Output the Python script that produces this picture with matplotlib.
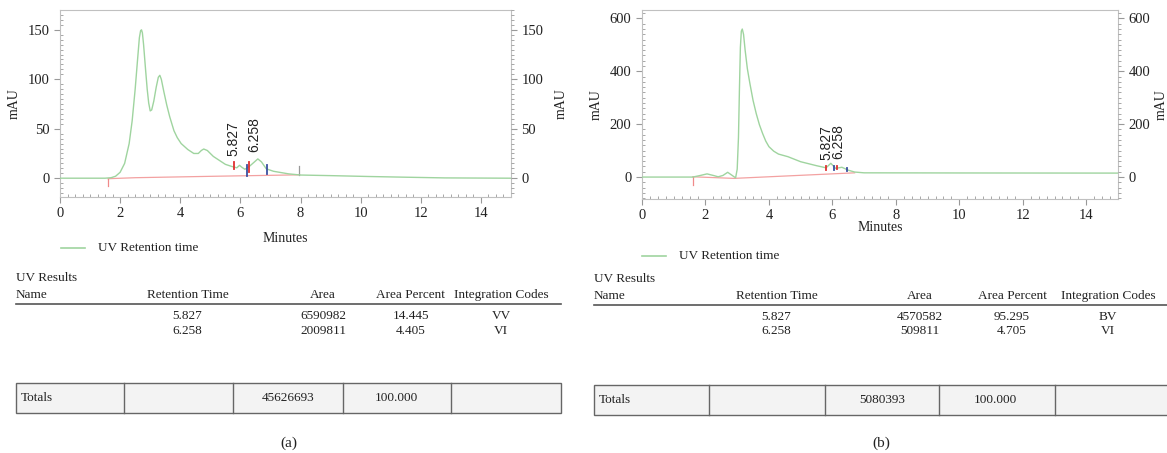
import matplotlib
matplotlib.use("Agg")
import matplotlib.pyplot as plt
from matplotlib.patches import Rectangle
from matplotlib.lines import Line2D
from matplotlib.ticker import MultipleLocator, AutoMinorLocator

plt.rcParams.update({"font.family": ["Liberation Serif", "DejaVu Serif"], "font.size": 9})

W, H = 1167, 453
GREEN, RED, BLUE, GREY = "#9fd49f", "#f08a8a", "#3a4fa0", "#999999"
TXT = "#222222"

# ---- chromatogram (a)
ta = [0, 1.5, 1.7, 1.85, 2.0, 2.15, 2.3, 2.4, 2.5, 2.58, 2.64, 2.68, 2.71, 2.74, 2.78, 2.84,
      2.9, 2.95, 3.0, 3.05, 3.12, 3.2, 3.27, 3.32, 3.37, 3.45, 3.55, 3.65, 3.79, 3.9, 4.03,
      4.25, 4.45, 4.6, 4.7, 4.78, 4.9, 5.1, 5.3, 5.5, 5.7, 5.88, 5.97, 6.05, 6.15, 6.3, 6.45,
      6.58, 6.7, 6.86, 7.1, 7.6, 8.0, 9.0, 10.3, 11.5, 12.8, 15.0]
ya = [0, 0, 0.5, 2, 6, 15, 35, 58, 90, 120, 142, 149, 150, 147, 135, 112,
      90, 76, 68, 69, 78, 92, 102, 104, 100, 88, 74, 62, 48, 41, 35,
      29, 25, 25, 28, 29.5, 28, 22, 18, 14, 12, 10.5, 13, 11, 9, 12, 16,
      19.5, 16.5, 9.5, 7, 4.4, 3.2, 2.6, 1.7, 1.0, 0.3, 0]
base_ta = [1.6, 2.5, 5.2, 7.97]
base_ya = [-0.5, 0.5, 2.0, 3.4]
marks_a = [(5.79, 9, 16, "#e03030"), (6.22, 2, 13, BLUE), (6.29, 6, 16, "#e03030"), (6.89, 4, 13, BLUE)]
labels_a = [(5.78, 22, "5.827"), (6.45, 26, "6.258")]

# ---- chromatogram (b)
tb = [0, 1.6, 1.8, 2.05, 2.25, 2.4, 2.55, 2.7, 2.82, 2.95, 3.0, 3.04, 3.07, 3.1, 3.13, 3.16,
      3.2, 3.25, 3.32, 3.4, 3.5, 3.6, 3.7, 3.8, 3.9, 4.0, 4.15, 4.3, 4.6, 5.0, 5.5, 5.8, 5.95,
      6.1, 6.3, 6.5, 6.7, 7.0, 10.0, 15.0]
yb = [0, 0, 5, 12, 6, 1, 6, 18, 8, -3, 30, 150, 330, 490, 552, 560,
      540, 480, 410, 354, 290, 240, 198, 165, 136, 115, 98, 87, 77, 58, 43, 35, 52,
      33, 37, 26, 19, 16, 15.5, 15]
base_tb = [1.6, 2.9, 6.7]
base_yb = [1, -5, 16]
marks_b = [(5.80, 28, 40, "#e03030"), (6.06, 28, 40, BLUE), (6.16, 30, 42, "#e03030"), (6.47, 24, 36, BLUE)]
labels_b = [(5.82, 66, "5.827"), (6.20, 70, "6.258")]

# ---- result tables
headers = ["Name", "Retention Time", "Area", "Area Percent", "Integration Codes"]
rt = ["5.827", "6.258"]
area_a = ["6590982", "2009811"]
pct_a = ["14.445", "4.405"]
code_a = ["VV", "VI"]
total_a = ["45626693", "100.000"]
area_b = ["4570582", "509811"]
pct_b = ["95.295", "4.705"]
code_b = ["BV", "VI"]
total_b = ["5080393", "100.000"]

fig = plt.figure(figsize=(W / 100, H / 100), dpi=100)


def fx(px):
    return px / W


def fy(py):
    return 1 - py / H


def chrom(box, t, y, bt, by, vtick, marks, labels, ylim, ymaj, lab_pad, rpad, xmark=None):
    ax = fig.add_axes(box)
    ax.plot(t, y, color=GREEN, lw=1.0, zorder=3)
    ax.plot(bt, by, color=RED, lw=0.9, alpha=0.8, zorder=2)
    ax.plot([bt[0], bt[0]], [vtick, by[0]], color=RED, lw=0.9)
    for xm, y0, y1, c in marks:
        ax.plot([xm, xm], [y0, y1], color=c, lw=1.3, zorder=4)
    for xl, yl, s in labels:
        ax.text(xl, yl, s, rotation=90, ha="center", va="bottom", fontsize=10,
                family=["Liberation Sans", "DejaVu Sans"], color=TXT)
    if xmark is not None:
        ax.plot([xmark[0], xmark[0]], [xmark[1], xmark[2]], color=GREY, lw=0.9)
    ax.set_xlim(0, 15)
    ax.set_ylim(*ylim)
    ax.xaxis.set_major_locator(MultipleLocator(2))
    ax.xaxis.set_minor_locator(MultipleLocator(0.25))
    ax.yaxis.set_major_locator(MultipleLocator(ymaj))
    ax.yaxis.set_minor_locator(AutoMinorLocator(10))
    for s in ax.spines.values():
        s.set_color("#c0c0c0")
        s.set_linewidth(0.8)
    ax.tick_params(which="both", colors="#999999", labelcolor=TXT, labelsize=10.5)
    ax.tick_params(which="major", length=4, direction="out")
    ax.tick_params(which="minor", length=2, direction="in")
    ax.tick_params(axis="y", which="minor", left=False)
    ax.set_xlabel("Minutes", fontsize=10, color=TXT, labelpad=lab_pad)
    ax.set_ylabel("mAU", fontsize=10, color=TXT, labelpad=5)
    ax2 = ax.twinx()
    ax2.set_ylim(*ylim)
    ax2.yaxis.set_major_locator(MultipleLocator(ymaj))
    ax2.yaxis.set_minor_locator(AutoMinorLocator(10))
    for s in ax2.spines.values():
        s.set_visible(False)
    ax2.tick_params(which="both", colors="#999999", labelcolor=TXT, labelsize=10.5)
    ax2.tick_params(which="major", length=4, direction="out")
    ax2.tick_params(which="minor", length=2, direction="out")
    ax2.set_ylabel("mAU", fontsize=10, color=TXT, labelpad=rpad)
    return ax


chrom([fx(60), fy(197), fx(511) - fx(60), fy(10) - fy(197)], ta, ya, base_ta, base_ya, -8,
      marks_a, labels_a, (-19, 170), 50, 8, 8, xmark=(7.95, 3, 12))
chrom([fx(642), fy(199), fx(1118) - fx(642), fy(10) - fy(199)], tb, yb, base_tb, base_yb, -30,
      marks_b, labels_b, (-83, 632), 200, -1, 3)


def legend(x0, y):
    fig.add_artist(Line2D([fx(x0), fx(x0 + 24)], [fy(y), fy(y)], color=GREEN, lw=1.2))
    fig.text(fx(x0 + 37), fy(y), "UV Retention time", fontsize=9.5, color=TXT, va="center")


legend(61, 248)
legend(642, 256)


def table(x0, x1, ytop, cols, dividers, rows, totals, tot_x, box_y):
    fig.text(fx(x0), fy(ytop), "UV Results", fontsize=9.5, color=TXT, va="center")
    fig.text(fx(x0), fy(ytop + 17), headers[0], fontsize=9.5, color=TXT, va="center")
    for h, cx in zip(headers[1:], cols):
        fig.text(fx(cx), fy(ytop + 17), h, fontsize=9.5, color=TXT, ha="center", va="center")
    yl = ytop + 26
    fig.add_artist(Line2D([fx(x0), fx(x1)], [fy(yl), fy(yl)], color="#555555", lw=1.2))
    for r, row in enumerate(rows):
        for v, cx in zip(row, cols):
            fig.text(fx(cx), fy(yl + 12 + 14.5 * r), v, fontsize=9.5, color=TXT,
                     ha="center", va="center")
    b0, b1 = box_y
    fig.add_artist(Rectangle((fx(x0), fy(b1)), fx(x1) - fx(x0), fy(b0) - fy(b1),
                             facecolor="#f3f3f3", edgecolor="#666666", lw=1.0))
    for d in dividers:
        fig.add_artist(Line2D([fx(d), fx(d)], [fy(b0), fy(b1)], color="#666666", lw=1.0))
    ym = (b0 + b1) / 2
    fig.text(fx(x0 + 5), fy(ym), "Totals", fontsize=9.5, color=TXT, va="center")
    for v, cx in zip(totals, tot_x):
        fig.text(fx(cx), fy(ym), v, fontsize=9.5, color=TXT, ha="center", va="center")


rows_a = [[rt[i], area_a[i], pct_a[i], code_a[i]] for i in range(2)]
rows_b = [[rt[i], area_b[i], pct_b[i], code_b[i]] for i in range(2)]
table(15.5, 560.5, 278, [187.6, 323, 410.6, 501], [124.3, 233.4, 342.6, 451.3],
      rows_a, total_a, [288.5, 396], (383, 413))
table(594, 1175, 279, [776.6, 920, 1012, 1108], [709, 824.5, 939.4, 1054.7],
      rows_b, total_b, [882.5, 995.6], (385, 415))

fig.text(fx(288.5), fy(443), "(a)", fontsize=11, color=TXT, ha="center", va="center")
fig.text(fx(881.4), fy(443), "(b)", fontsize=11, color=TXT, ha="center", va="center")

fig.savefig("out.png", dpi=100)
